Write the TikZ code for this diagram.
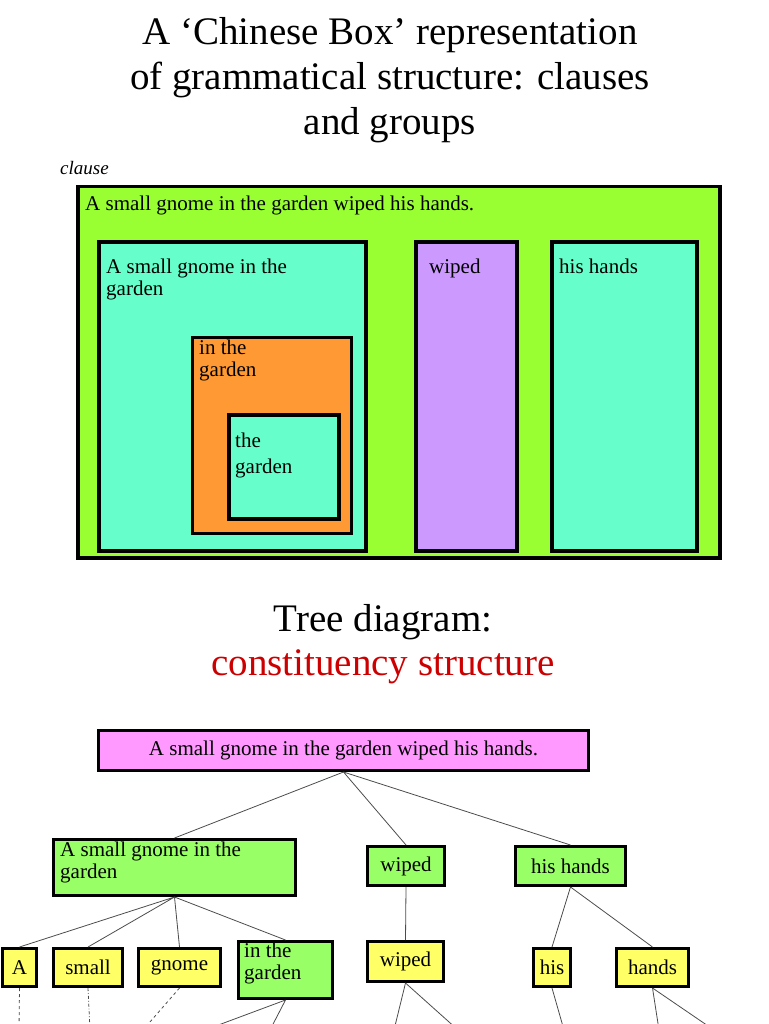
\documentclass[tikz,border=0pt]{standalone}
\usepackage{fontspec}
\setmainfont{Liberation Serif}
\begin{document}
\begin{tikzpicture}[x=1pt,y=-1pt,
  bx/.style={draw=black,line width=3.5pt,inner sep=0pt,anchor=north west},
  tn/.style={draw=black,line width=3pt,inner sep=0pt,anchor=north west},
  lb/.style={anchor=north west,inner sep=0pt,font=\fontsize{21}{22}\selectfont,align=left},
  tl/.style={font=\fontsize{21}{22}\selectfont,align=left,inner sep=0pt},
  ed/.style={draw=black!70,line width=0.8pt}]
\useasboundingbox (0,0) rectangle (768,1024);
\clip (0,0) rectangle (768,1024);
\definecolor{lg}{HTML}{99FF33}\definecolor{cy}{HTML}{66FFCC}
\definecolor{or}{HTML}{FF9933}\definecolor{pu}{HTML}{CC99FF}
\definecolor{pk}{HTML}{FF99FF}\definecolor{tg}{HTML}{99FF66}
\definecolor{ye}{HTML}{FFFF66}\definecolor{rd}{HTML}{CC0000}
\node (t1) at (390,35) {\fontsize{39}{40}\selectfont A ‘Chinese Box’ representation};
\node (t2) at (390,80) {\fontsize{39}{40}\selectfont of grammatical structure: clauses};
\node (t3) at (390,125) {\fontsize{39}{40}\selectfont and groups};
\node[anchor=west,inner sep=0pt] (cl) at (60,168) {\fontsize{19}{20}\selectfont\itshape clause};
% boxes
\node[bx,fill=lg,minimum width=642,minimum height=371] (b0) at (76,185) {};
\node[lb] at (85,196) {A small gnome in the garden wiped his hands.};
\node[bx,fill=cy,minimum width=267,minimum height=309] (b1) at (97,240) {};
\node[lb] at (106,259) {A small gnome in the\\garden};
\node[bx,fill=or,minimum width=159,minimum height=196,line width=2.5pt] (b2) at (191,336) {};
\node[lb] at (199,340) {in the\\garden};
\node[bx,fill=cy,minimum width=110,minimum height=104] (b3) at (227,413) {};
\node[lb] at (235,433) {the\\[4pt]garden};
\node[bx,fill=pu,minimum width=101,minimum height=309] (b4) at (414,240) {};
\node[lb] at (429,259) {wiped};
\node[bx,fill=cy,minimum width=145,minimum height=309] (b5) at (550,240) {};
\node[lb] at (559,259) {his hands};
\node (tr1) at (383,622) {\fontsize{39}{40}\selectfont Tree diagram:};
\node (tr2) at (383,667) {\fontsize{39}{40}\selectfont\color{rd}constituency structure};
% tree
\node[tn,fill=pk,minimum width=490,minimum height=40] (r) at (97,729) {};
\node[tl] at (r.center) {A small gnome in the garden wiped his hands.};
\node[tn,fill=tg,minimum width=242,minimum height=56] (n1) at (52,838) {};
\node[lb] at (60,842) {A small gnome in the\\garden};
\node[tn,fill=tg,minimum width=77,minimum height=39] (n2) at (366,845) {};
\node[tl] at (n2.center) {wiped};
\node[tn,fill=tg,minimum width=110,minimum height=39] (n3) at (514,845) {};
\node[tl] at (n3.center) {his hands};
\node[tn,fill=ye,minimum width=34,minimum height=38] (l1) at (1,947) {};
\node[tl] at (l1.center) {A};
\node[tn,fill=ye,minimum width=69,minimum height=38] (l2) at (52,947) {};
\node[tl] at (l2.center) {small};
\node[tn,fill=ye,minimum width=82,minimum height=38] (l3) at (137,947) {};
\node[tl] at (l3.center) {gnome};
\node[tn,fill=tg,minimum width=94,minimum height=57] (l4) at (237,940) {};
\node[lb] at (244,943) {in the\\garden};
\node[tn,fill=ye,minimum width=76,minimum height=40] (l5) at (366,940) {};
\node[tl] at (l5.center) {wiped};
\node[tn,fill=ye,minimum width=37,minimum height=38] (l6) at (532,947) {};
\node[tl] at (l6.center) {his};
\node[tn,fill=ye,minimum width=72,minimum height=38] (l7) at (615,947) {};
\node[tl] at (l7.center) {hands};
\begin{scope}[on background layer/.style={}]
\end{scope}
\coordinate (c1) at (19,1030);\coordinate (c2) at (90,1030);
\coordinate (c3) at (143,1030);\coordinate (c4) at (205,1030);
\coordinate (c5) at (270,1030);\coordinate (c6) at (394,1030);
\coordinate (c7) at (458,1030);\coordinate (c8) at (564,1030);
\coordinate (c9) at (659,1030);\coordinate (c10) at (714,1030);
\path[ed] (r.south) -- (n1.north) (r.south) -- (n2.north) (r.south) -- (n3.north);
\path[ed] (n1.south) -- (l1.north) (n1.south) -- (l2.north) (n1.south) -- (l3.north) (n1.south) -- (l4.north);
\path[ed] (n2.south) -- (l5.north);
\path[ed] (n3.south) -- (l6.north) (n3.south) -- (l7.north);
\path[ed,dashed] (l1.south) -- (c1);
\path[ed,dash dot] (l2.south) -- (c2);
\path[ed,dashed] (l3.south) -- (c3);
\path[ed] (l4.south) -- (c4) (l4.south) -- (c5);
\path[ed] (l5.south) -- (c6) (l5.south) -- (c7);
\path[ed] (l6.south) -- (c8);
\path[ed] (l7.south) -- (c9) (l7.south) -- (c10);
\end{tikzpicture}
\end{document}
